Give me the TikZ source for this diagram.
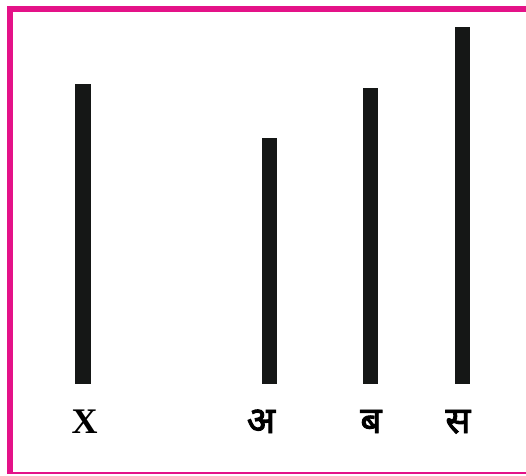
\documentclass[tikz,border=0pt]{standalone}
\usepackage{fontspec}
\setmainfont{Liberation Serif}
\newfontfamily\devfont[Script=Devanagari,FakeBold=2.5]{Noto Sans}
\definecolor{framemag}{RGB}{228,18,136}
\definecolor{barblack}{RGB}{21,23,22}
\tikzset{
  barbox/.style={fill=barblack, draw=none},
  lbl/.style={inner sep=0pt, anchor=base, font=\fontsize{36}{38}\selectfont\bfseries},
  devlbl/.style={inner sep=0pt, anchor=base, font=\fontsize{37}{40}\selectfont\devfont},
}
\begin{document}
\begin{tikzpicture}[x=1pt,y=-1pt]
\useasboundingbox (0,0) rectangle (526,475);
% frame
\fill[framemag] (7,6) rectangle (526,11.5);
\fill[framemag] (7,6) rectangle (12.5,474);
\fill[framemag] (7,472) rectangle (526,474);
% bars
\fill[barbox] (75,84) rectangle (91,384);
\fill[barbox] (262,138) rectangle (277,384);
\fill[barbox] (363,88) rectangle (378,384);
\fill[barbox] (455,27) rectangle (470,384);
% labels
\node[lbl] (lx) at (84.5,433) {X};
\node[devlbl] (la) at (261,433) {अ};
\node[devlbl] (lb) at (371,433) {ब};
\node[devlbl] (ls) at (458,433) {स};
\end{tikzpicture}
\end{document}
